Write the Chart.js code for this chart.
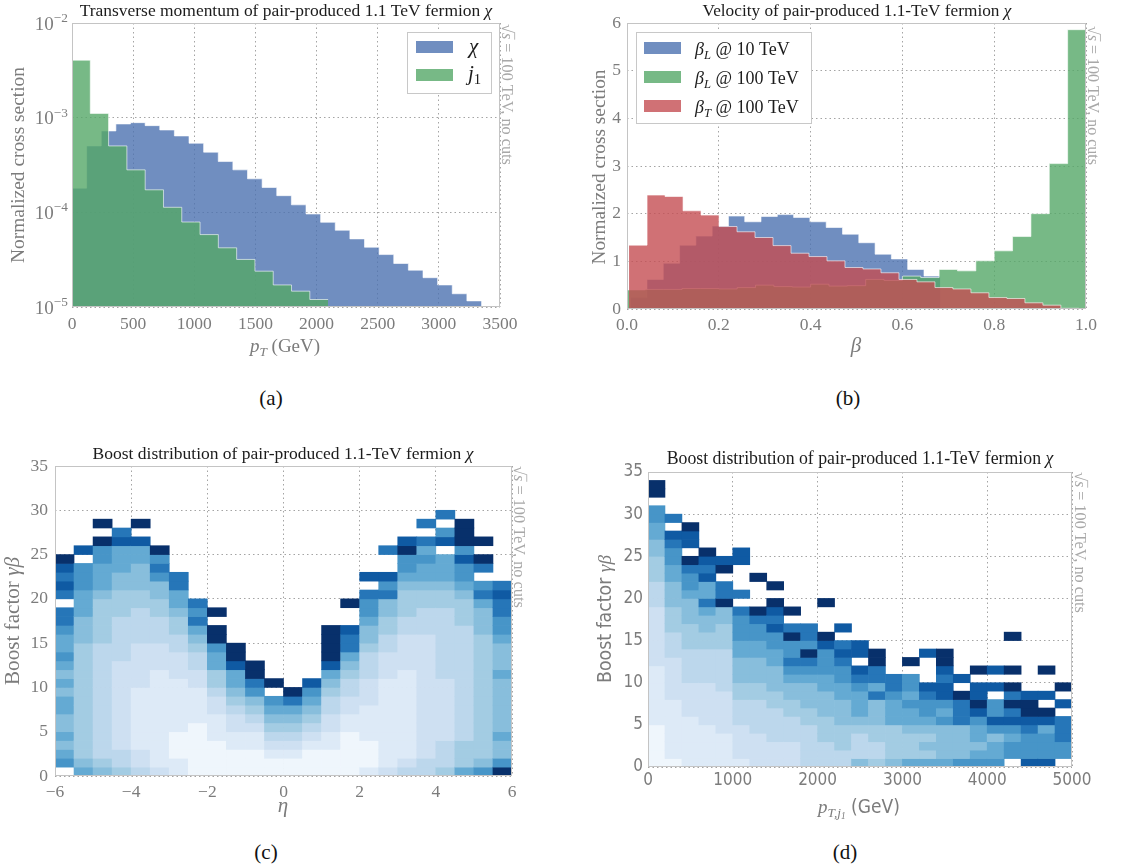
<!DOCTYPE html>
<html>
<head>
<meta charset="utf-8">
<title>Pair-produced 1.1 TeV fermion</title>
<script src="https://cdn.jsdelivr.net/npm/chart.js@4.4.1/dist/chart.umd.min.js"></script>
<style>
  html, body { margin: 0; padding: 0; background: #fff; }
  body { width: 1123px; height: 868px; position: relative; overflow: hidden; }
  .panel { position: absolute; }
  .cap { position: absolute; width: 60px; text-align: center; line-height: 24px; color: #111;
         font: 21px "Liberation Serif", "DejaVu Serif", serif; }
</style>
</head>
<body>
<div class="panel" style="left:0;top:0;width:560px;height:380px"><canvas id="ptChart"></canvas></div>
<div class="panel" style="left:560px;top:0;width:563px;height:380px"><canvas id="betaChart"></canvas></div>
<div class="panel" style="left:0;top:430px;width:560px;height:400px"><canvas id="etaChart"></canvas></div>
<div class="panel" style="left:560px;top:430px;width:563px;height:400px"><canvas id="ptBoostChart"></canvas></div>
<div class="cap" style="left:241px;top:386px">(a)</div>
<div class="cap" style="left:818px;top:386px">(b)</div>
<div class="cap" style="left:236px;top:840px">(c)</div>
<div class="cap" style="left:815px;top:840px">(d)</div>
<script>
// ---- (a) transverse momentum, normalized histograms (log y) ----
const ptChiBinWidth = 119.6;
const ptChiValues = [1.80e-4, 5.03e-4, 7.24e-4, 8.58e-4, 8.86e-4, 8.24e-4, 7.41e-4, 6.41e-4,
  5.37e-4, 4.32e-4, 3.44e-4, 2.81e-4, 2.26e-4, 1.83e-4, 1.50e-4, 1.20e-4, 9.6e-5, 7.85e-5,
  6.47e-5, 5.24e-5, 4.28e-5, 3.58e-5, 2.88e-5, 2.45e-5, 2.04e-5, 1.71e-5, 1.38e-5, 1.16e-5];
const ptJetBinWidth = 149.6;
const ptJetValues = [4.05e-3, 1.11e-3, 5.03e-4, 2.81e-4, 1.73e-4, 1.13e-4, 7.9e-5, 5.82e-5,
  4.22e-5, 3.18e-5, 2.39e-5, 1.71e-5, 1.47e-5, 1.20e-5];
const sigmaLogTicks = [1e-5, 1e-4, 1e-3, 1e-2];

// ---- (b) velocity, normalized histograms ----
const betaL10Start = 0.008, betaL10BinWidth = 0.0355;
const betaL10Values = [0.24, 0.62, 0.96, 1.34, 1.53, 1.74, 1.95, 1.83, 1.94, 1.98, 1.92, 1.83,
  1.71, 1.57, 1.39, 1.15, 1.05, 0.83, 0.69];
const betaL100Start = 0, betaL100BinWidth = 0.04;
const betaL100Values = [0.40, 0.41, 0.41, 0.43, 0.43, 0.42, 0.45, 0.50, 0.47, 0.46, 0.52, 0.48,
  0.49, 0.62, 0.60, 0.69, 0.66, 0.83, 0.80, 1.01, 1.22, 1.52, 2.00, 3.05, 5.86];
const betaT100Start = 0.0045, betaT100BinWidth = 0.0392;
const betaT100Values = [1.34, 2.39, 2.36, 2.06, 1.97, 1.73, 1.62, 1.50, 1.33, 1.17, 1.10, 1.01,
  0.87, 0.84, 0.76, 0.62, 0.57, 0.45, 0.42, 0.34, 0.24, 0.22, 0.13, 0.08, 0.015];

// ---- (c) boost vs eta: one entry per eta column, cells listed bottom row first.
// tokens: '.' empty cell, '0'..'9','N' shade (light -> navy), 'x*n' = n times
const etaMin = -6, etaBinWidth = 0.5;
const boostVsEta = [
  ". 7 6 5 6 5 5 6 6 5 6 5 6 7 6 6 7 8 8 . 8 9 8 9 N",
  "6 5 4*13 5*3 6*3 7*3 . 9",
  "5 4 3*13 4*5 5 6*3 7*2 N . N",
  "4 3*2 2*10 3*5 4*3 5*2 6*3 9 8",
  "3 2*2 1*7 2*5 3*4 4*2 5*3 6*2 9 . N",
  "2 1*11 2*3 3*3 4*2 5*2 7 8 7 N",
  "1*2 0*3 1*6 2*3 3*2 4*2 5 6*2 8*2",
  "0*6 1*4 2*2 3*2 4 5 6 8 7 8",
  "0*4 1*3 2*2 3 4*2 6*2 7 N*2 . N",
  "0*3 1*2 2*2 3 4 5 6*2 9 N*2",
  "0*3 1*2 2 3 4 5 7 8 N*2",
  "0*2 1 2 3 4 5 6 7 . N",
  "0*2 1 2 3 4 5 6 8 N",
  "0*3 1 2 3 4 5 6 7 9",
  "0*3 1*2 2*2 3*2 4 5 6 9 N*4",
  "0*5 1*2 2*2 3*2 4 5 6 8*2 9 .*2 N",
  "1 0*3 1*4 2*3 3*3 4 5*2 6 7*2 8 . 9",
  "2 1*10 2*3 3*2 4*2 5*2 8 7 9 .*2 8",
  "3 2 1*10 2*4 3*2 4*3 5 6 7*2 N 9",
  "3*2 2*14 3*3 4*2 5 6*2 7 6 8 . 8",
  "4 3*3 2*7 3*8 4*2 5 6*3 . 9 7 . 8",
  "6 4*3 3*13 4*3 5 6 7*2 9 7 N*3",
  "7 5 4*14 5*3 6 8 7 . 8 N . N",
  "N 7 5*2 6 5*6 6 5*3 6 7*2 8*2 9 8"
];

// ---- (d) boost vs leading-jet pT: one entry per 200 GeV column, bottom row first ----
const ptJ1BinWidth = 200;
const boostVsPtJ1 = [
  "0*5 1*7 2*7 3*3 4*3 5*2 6*2 7*2 . N*2",
  "0 1*7 2*5 3*3 4*3 5*3 6*2 7*2 8 9 . 8",
  "1*6 2*4 3*4 4*3 5*3 6 7*2 8 N . 9*2 N",
  "1*5 2*5 3*4 4*2 5*2 6 8 6*2 9 8 9 N",
  "1*4 2*5 3*5 4*3 5*2 N 8*2 . N 9",
  "1 2*4 3*3 4*2 5*3 6*2 7*3 8 . 8 .*3 9*2",
  "2*4 3*4 4*2 5*3 6*2 7*2 8 N .*3 N",
  "2*3 3*4 4*2 5*3 6*2 7*2 9 8 9 N . N",
  "2*3 3*3 4*2 5*2 6 7 8 7*2 N 8 . N",
  "3*5 4*2 5*3 6 7 8 N 7 8*2",
  "3*3 4*3 5*3 6*2 7*3 9 N .*3 N",
  "3*2 4*3 5*3 6*2 7*2 8 9 8 . 9",
  "5 3*3 4 5 6*3 7 8 9 . 9*2",
  "4 3*2 4*2 5*3 8 6 8*2 N*2",
  "5 4*4 6*3 7 8*2",
  "6 4*3 5 6*2 7 6 7*2 . N",
  "6 4 5 4 5 6 7*2 8 9 .*3 9",
  "6 5*4 7 6 7 9*2 8 9 N*2",
  "7 5*4 8*3 N . 9",
  "7 6 5 6*2 7 9 N 9*2 . N",
  "7 6*2 5 7 9 7*2 . 9 . 9",
  ". 7*2 6 7 9 8 N 8 N . N .*3 N",
  "9 7*3 8 9 N*2 9",
  "9 7*3 6 9 N . 9 .*2 N",
  ". 7*2 8*3 . 9 . N"
];

// ---- styles ----
const SERIF = '"Liberation Serif", "DejaVu Serif", serif';
const SANS = '"DejaVu Sans Condensed", "Liberation Sans Narrow", "DejaVu Sans", sans-serif';
const INK = '#1c1c1c', AXIS_INK = '#7c7c7c', NOTE_INK = '#a8a8a8';
const BLUE = 'rgba(76,114,176,0.8)', GREEN = 'rgba(85,168,104,0.8)', RED = 'rgba(196,78,82,0.8)';
const EDGE = 'rgba(255,255,255,0.6)';
const BLUES = [[247,251,255],[222,235,247],[198,219,239],[158,202,225],[107,174,214],
  [66,146,198],[33,113,181],[8,81,156],[8,48,107]];
const LEVEL_T = { '0': 0.04, '1': 0.13, '2': 0.21, '3': 0.28, '4': 0.36, '5': 0.43,
  '6': 0.52, '7': 0.61, '8': 0.73, '9': 0.84, 'N': 1 };

function blues(t) {
  const x = t * 8, i = Math.min(7, Math.floor(x)), f = x - i;
  const a = BLUES[i], b = BLUES[i + 1];
  return 'rgb(' + a.map((v, k) => Math.round(v + (b[k] - v) * f)).join(',') + ')';
}

// histogram as a stepped line: value of bin i holds from edge i to edge i+1
function stepPoints(start, width, values) {
  const pts = values.map((v, i) => ({ x: start + i * width, y: v }));
  pts.push({ x: start + values.length * width, y: values[values.length - 1] });
  return pts;
}

function expandColumn(s) {
  return s.split(' ').map(t => {
    const [c, n] = t.split('*');
    return c.repeat(n ? +n : 1);
  }).join('');
}

function cells(columns, x0, w) {
  const out = [];
  columns.map(expandColumn).forEach((col, i) => {
    for (let j = 0; j < col.length; j++) {
      if (col[j] !== '.') out.push({ x: x0 + (i + 0.5) * w, y: [j, j + 1], lev: col[j] });
    }
  });
  return out;
}

// ---- text helpers (sub/superscripts, italics, rotation) ----
function partFont(p, size, family) {
  const st = p[1] || '';
  const lvl = (st.match(/b/g) || []).length + (st.includes('p') ? 1 : 0);
  return (st.includes('i') ? 'italic ' : '') + (size * Math.pow(0.7, lvl)).toFixed(2) + 'px ' + (p[2] || family);
}
function partShift(p, size) {
  const st = p[1] || '';
  const b = (st.match(/b/g) || []).length;
  if (b) return size * (b === 1 ? 0.2 : 0.34);
  if (st.includes('p')) return -size * 0.4;
  return 0;
}
function richText(ctx, parts, x, y, o) {
  const family = o.family || SERIF;
  let size = o.size;
  const measure = sz => parts.reduce((w, p) => {
    ctx.font = partFont(p, sz, family);
    return w + ctx.measureText(p[0]).width;
  }, 0);
  if (o.fit) size = size * o.fit / measure(size);
  const w = measure(size);
  ctx.save();
  ctx.translate(x, y);
  if (o.rot) ctx.rotate(o.rot);
  ctx.fillStyle = ctx.strokeStyle = o.color || INK;
  ctx.textBaseline = 'alphabetic';
  ctx.textAlign = 'left';
  let cx = o.align === 'left' ? 0 : o.align === 'right' ? -w : -w / 2;
  for (const p of parts) {
    ctx.font = partFont(p, size, family);
    const pw = ctx.measureText(p[0]).width;
    ctx.fillText(p[0], cx, partShift(p, size));
    if ((p[1] || '').includes('o')) {
      ctx.lineWidth = 0.8;
      ctx.beginPath();
      ctx.moveTo(cx - 0.5, -size * 0.78);
      ctx.lineTo(cx + pw + 0.5, -size * 0.78);
      ctx.stroke();
    }
    cx += pw;
  }
  ctx.restore();
}
function frame(ctx, a) {
  ctx.save();
  ctx.strokeStyle = '#c4c4c4';
  ctx.lineWidth = 1;
  ctx.strokeRect(a.left + 0.5, a.top + 0.5, a.right - a.left - 1, a.bottom - a.top - 1);
  ctx.restore();
}
function note(ctx, x, y, len) {
  richText(ctx, [['√', ''], ['s', 'io'], [' = 100 TeV, no cuts', '']], x, y,
    { size: 13.5, fit: len, rot: Math.PI / 2, align: 'left', color: NOTE_INK });
}
function decor(draw) {
  return { id: 'decor', afterDraw(chart) { draw(chart.ctx, chart); } };
}

Chart.defaults.font.family = SERIF;
Chart.defaults.color = AXIS_INK;
Chart.defaults.animation = false;
Chart.defaults.events = [];
Chart.defaults.responsive = true;
Chart.defaults.maintainAspectRatio = false;
Chart.defaults.devicePixelRatio = 1;
Chart.defaults.plugins.legend.display = false;
Chart.defaults.plugins.tooltip.enabled = false;

const gridStyle = { color: '#a4a4a4', lineWidth: 1, drawTicks: false, offset: false };
const gridDash = { display: false, dash: [1.5, 3] };
const fitX = h => s => { s.height = h; s.paddingLeft = 0; s.paddingRight = 0; };
const fitY = w => s => { s.width = w; s.paddingTop = 0; s.paddingBottom = 0; };

function histSet(data, color, order) {
  return { data, order, backgroundColor: color, borderColor: EDGE, borderWidth: 1,
    fill: 'start', stepped: true, pointRadius: 0, tension: 0 };
}

// ---- (a) ----
new Chart(document.getElementById('ptChart'), {
  type: 'line',
  data: { datasets: [
    histSet(stepPoints(0, ptJetBinWidth, ptJetValues), GREEN, 0),
    histSet(stepPoints(0, ptChiBinWidth, ptChiValues), BLUE, 1)
  ] },
  options: {
    layout: { padding: { top: 23, right: 60, left: 0, bottom: 0 } },
    scales: {
      x: { type: 'linear', min: 0, max: 3500, z: 1, grid: gridStyle, border: gridDash,
        ticks: { stepSize: 500, maxRotation: 0, autoSkip: false, padding: 6.5, font: { size: 17.5 },
          callback: v => String(v) },
        afterFit: fitX(73) },
      y: { type: 'logarithmic', min: 1e-5, max: 1e-2, z: 1, grid: gridStyle, border: gridDash,
        afterBuildTicks: s => { s.ticks = sigmaLogTicks.map(v => ({ value: v, major: true })); },
        ticks: { callback: () => '' },
        afterFit: fitY(72) }
    }
  },
  plugins: [decor((ctx, chart) => {
    frame(ctx, chart.chartArea);
    sigmaLogTicks.forEach(v => {
      const py = chart.scales.y.getPixelForValue(v);
      richText(ctx, [['10', ''], ['\u2212' + Math.round(-Math.log10(v)), 'p']], 68, py + 6.5,
        { size: 19, color: AXIS_INK, align: 'right' });
    });
    richText(ctx, [['Transverse momentum of pair-produced 1.1 TeV fermion ', ''], ['χ', 'i']], 286, 16,
      { size: 16, fit: 413 });
    richText(ctx, [['Normalized cross section', '']], 24, 165,
      { size: 18, fit: 196, rot: -Math.PI / 2, color: AXIS_INK });
    richText(ctx, [['p', 'i'], ['T', 'bi'], [' (GeV)', '']], 285, 352, { size: 19, color: AXIS_INK });
    note(ctx, 502, 24, 141);
    ctx.fillStyle = '#fff'; ctx.fillRect(407, 32, 84, 61);
    ctx.strokeStyle = '#c8c8c8'; ctx.lineWidth = 1; ctx.strokeRect(407.5, 32.5, 84, 61);
    ctx.fillStyle = BLUE; ctx.fillRect(416, 41, 37, 12);
    ctx.fillStyle = GREEN; ctx.fillRect(416, 69, 37, 12);
    richText(ctx, [['χ', 'i']], 469, 53, { size: 21, align: 'left' });
    richText(ctx, [['j', 'i'], ['1', 'b']], 468, 80, { size: 21, align: 'left' });
  })]
});

// ---- (b) ----
new Chart(document.getElementById('betaChart'), {
  type: 'line',
  data: { datasets: [
    histSet(stepPoints(betaT100Start, betaT100BinWidth, betaT100Values), RED, 0),
    histSet(stepPoints(betaL100Start, betaL100BinWidth, betaL100Values), GREEN, 1),
    histSet(stepPoints(betaL10Start, betaL10BinWidth, betaL10Values), BLUE, 2)
  ] },
  options: {
    layout: { padding: { top: 23, right: 37, left: 0, bottom: 0 } },
    scales: {
      x: { type: 'linear', min: 0, max: 1, z: 1, grid: gridStyle, border: gridDash,
        ticks: { stepSize: 0.2, maxRotation: 0, autoSkip: false, padding: 5.5, font: { size: 17.5 },
          callback: v => v.toFixed(1) },
        afterFit: fitX(71) },
      y: { type: 'linear', min: 0, max: 6, z: 1, grid: gridStyle, border: gridDash,
        ticks: { stepSize: 1, padding: 6, font: { size: 17.5 } },
        afterFit: fitY(67) }
    }
  },
  plugins: [decor((ctx, chart) => {
    frame(ctx, chart.chartArea);
    richText(ctx, [['Velocity of pair-produced 1.1-TeV fermion ', ''], ['χ', 'i']], 297, 16,
      { size: 16, fit: 309 });
    richText(ctx, [['Normalized cross section', '']], 45, 167,
      { size: 18, fit: 195, rot: -Math.PI / 2, color: AXIS_INK });
    richText(ctx, [['β', 'i']], 296, 352, { size: 21, color: AXIS_INK });
    note(ctx, 528, 26, 139);
    ctx.fillStyle = '#fff'; ctx.fillRect(76, 32, 175, 91);
    ctx.strokeStyle = '#c8c8c8'; ctx.lineWidth = 1; ctx.strokeRect(76.5, 32.5, 175, 91);
    const rows = [[BLUE, 'L', ' @ 10 TeV'], [GREEN, 'L', ' @ 100 TeV'], [RED, 'T', ' @ 100 TeV']];
    rows.forEach((r, k) => {
      ctx.fillStyle = r[0]; ctx.fillRect(84, 42 + 29 * k, 37, 12);
      richText(ctx, [['β', 'i'], [r[1], 'bi'], [r[2], '']], 135, 55 + 29 * k, { size: 18, align: 'left' });
    });
  })]
});

// ---- heatmap chart builder ----
function heatChart(id, columns, x0, w, xMin, xMax, xStep, geom, tickFont, xTick, draw) {
  return new Chart(document.getElementById(id), {
    type: 'bar',
    data: { datasets: [{
      data: cells(columns, x0, w),
      backgroundColor: c => (c.raw ? blues(LEVEL_T[c.raw.lev]) : '#fff'),
      borderWidth: 0, barPercentage: 1, categoryPercentage: 1, grouped: false
    }] },
    options: {
      layout: { padding: { top: geom.top, right: geom.right, left: 0, bottom: 0 } },
      scales: {
        x: { type: 'linear', min: xMin, max: xMax, offset: false, z: 1, grid: gridStyle, border: gridDash,
          ticks: { stepSize: xStep, maxRotation: 0, autoSkip: false, padding: geom.xPad, font: tickFont,
            callback: xTick },
          afterFit: fitX(geom.xH) },
        y: { type: 'linear', min: 0, max: 35, z: 1, grid: gridStyle, border: gridDash,
          ticks: { stepSize: 5, padding: geom.yPad, font: tickFont },
          afterFit: fitY(geom.yW) }
      }
    },
    plugins: [decor(draw)]
  });
}

// ---- (c) ----
heatChart('etaChart', boostVsEta, etaMin, etaBinWidth, -6, 6, 2,
  { top: 36, right: 48, xH: 54, yW: 55, xPad: 5.5, yPad: 7 },
  { family: SERIF, size: 17.5 },
  v => (v < 0 ? '\u2212' + (-v) : String(v)),
  (ctx, chart) => {
    frame(ctx, chart.chartArea);
    richText(ctx, [['Boost distribution of pair-produced 1.1-TeV fermion ', ''], ['χ', 'i']], 283, 29,
      { size: 16, fit: 381 });
    richText(ctx, [['Boost factor ', ''], ['γβ', 'i']], 19, 191,
      { size: 18, fit: 128, rot: -Math.PI / 2, color: AXIS_INK });
    richText(ctx, [['η', 'i']], 283, 382, { size: 21, color: AXIS_INK });
    note(ctx, 514, 36, 142);
  });

// ---- (d) ----
heatChart('ptBoostChart', boostVsPtJ1, 0, ptJ1BinWidth, 0, 5000, 1000,
  { top: 42, right: 51, xH: 63, yW: 88, xPad: 3, yPad: 5 },
  { family: SANS, size: 17 },
  v => String(v),
  (ctx, chart) => {
    frame(ctx, chart.chartArea);
    richText(ctx, [['Boost distribution of pair-produced 1.1-TeV fermion ', ''], ['χ', 'i']], 300, 34,
      { size: 16, fit: 387 });
    richText(ctx, [['Boost factor ', '', SANS], ['γβ', 'i', SERIF]], 51, 189,
      { size: 18, fit: 128, rot: -Math.PI / 2, color: AXIS_INK });
    richText(ctx, [['p', 'i'], ['T,j', 'bi'], ['1', 'bbi'], [' (GeV)', '', SANS]], 299, 383,
      { size: 19, color: AXIS_INK });
    note(ctx, 515, 42, 141);
  });
</script>
</body>
</html>
